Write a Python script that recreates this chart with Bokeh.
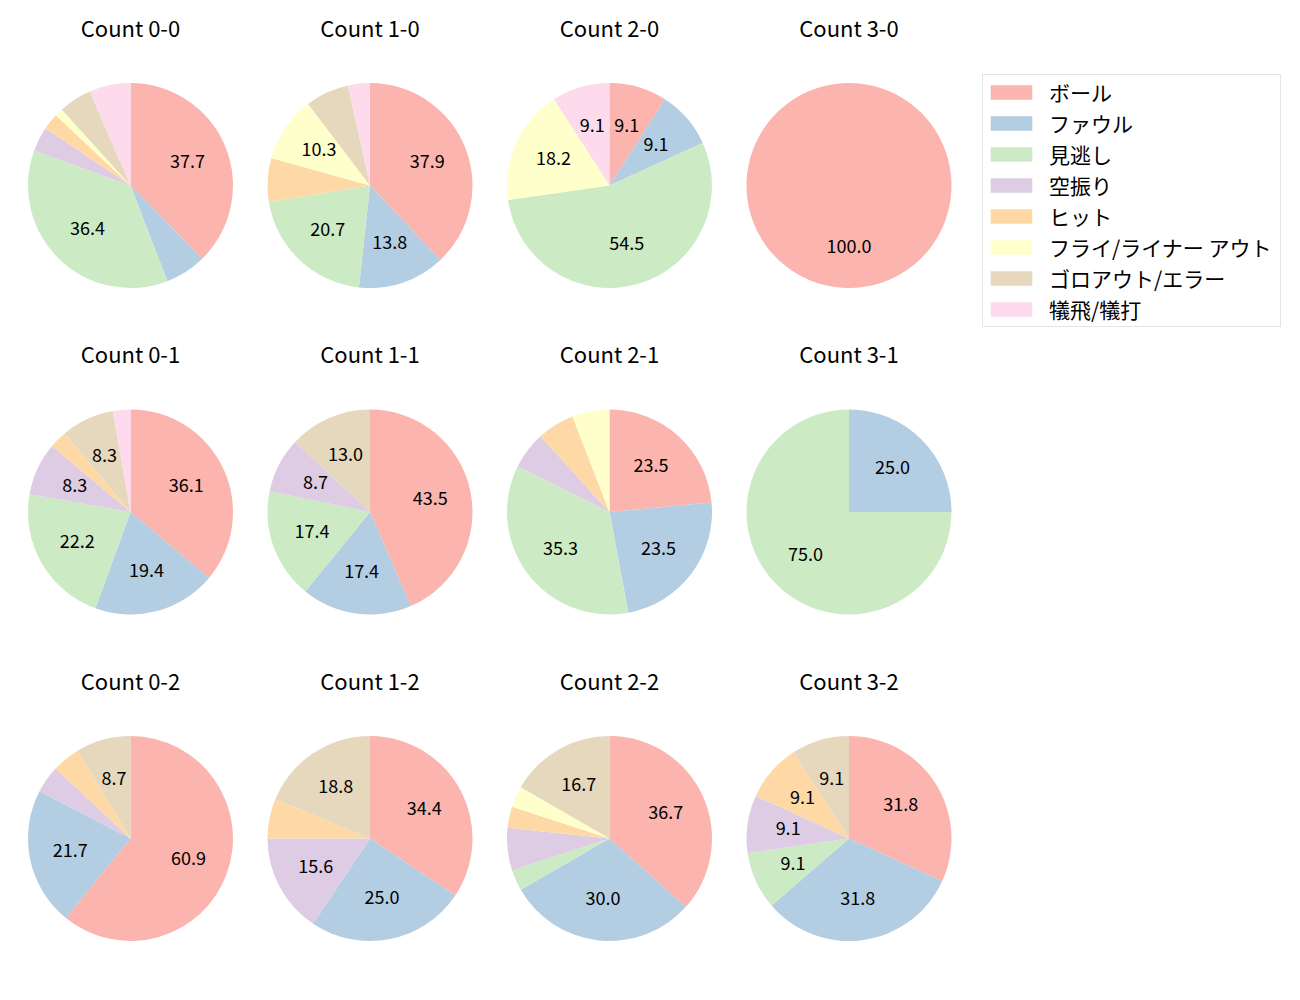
import math
from bokeh.plotting import figure
from bokeh.models import Range1d, ColumnDataSource, Legend, LegendItem
from bokeh.core.properties import value
from bokeh.embed import file_html
from bokeh.resources import INLINE

# ---- data ----
categories = ["ボール", "ファウル", "見逃し", "空振り", "ヒット",
              "フライ/ライナー アウト", "ゴロアウト/エラー", "犠飛/犠打"]
colors = ["#fbb4ae", "#b3cde3", "#ccebc5", "#decbe4", "#fed9a6",
          "#ffffcc", "#e5d8bd", "#fddaec"]

titles = ["Count 0-0", "Count 1-0", "Count 2-0", "Count 3-0",
          "Count 0-1", "Count 1-1", "Count 2-1", "Count 3-1",
          "Count 0-2", "Count 1-2", "Count 2-2", "Count 3-2"]

c00 = [29, 5, 28, 3, 2, 1, 4, 5]
c10 = [11, 4, 6, 0, 2, 3, 2, 1]
c20 = [1, 1, 6, 0, 0, 2, 0, 1]
c30 = [1, 0, 0, 0, 0, 0, 0, 0]
c01 = [13, 7, 8, 3, 1, 0, 3, 1]
c11 = [10, 4, 4, 2, 0, 0, 3, 0]
c21 = [4, 4, 6, 1, 1, 1, 0, 0]
c31 = [0, 1, 3, 0, 0, 0, 0, 0]
c02 = [14, 5, 0, 1, 1, 0, 2, 0]
c12 = [11, 8, 0, 5, 2, 0, 6, 0]
c22 = [11, 9, 1, 2, 1, 1, 5, 0]
c32 = [7, 7, 2, 2, 2, 0, 2, 0]
panels = [c00, c10, c20, c30, c01, c11, c21, c31, c02, c12, c22, c32]

label_min_pct = 8.0

# ---- layout (page pixel coordinates, y measured downward) ----
col_x = [130, 369.5, 609, 848.5]
row_y = [185, 511.5, 838]
R = 102.5
H = 1000
W_FIG, H_FIG = 1284, 984

p = figure(width=W_FIG, height=H_FIG, x_range=Range1d(0, W_FIG),
           y_range=Range1d(H - H_FIG, H),
           output_backend="svg", toolbar_location=None, min_border=0,
           x_axis_type=None, y_axis_type=None)
p.grid.visible = False
p.outline_line_color = None
p.background_fill_color = "white"
p.border_fill_color = "white"

font = value("Noto Sans CJK JP")

wedge_data = {k: dict(x=[], y=[], s=[], e=[]) for k in range(len(categories))}
lab = dict(x=[], y=[], t=[])
tit = dict(x=[], y=[], t=[])

for i, vals in enumerate(panels):
    cx = col_x[i % 4]
    cy = H - row_y[i // 4]
    total = float(sum(vals))
    cum = 0.0
    for k, v in enumerate(vals):
        if v <= 0:
            continue
        frac = v / total
        a0 = math.pi / 2 - 2 * math.pi * cum
        a1 = math.pi / 2 - 2 * math.pi * (cum + frac)
        if frac >= 0.99999:
            a1 = a0 - 2 * math.pi + 1e-4
        cum += frac
        wedge_data[k]["x"].append(cx)
        wedge_data[k]["y"].append(cy)
        wedge_data[k]["s"].append(a1)
        wedge_data[k]["e"].append(a0)
        pct = frac * 100
        if pct >= label_min_pct:
            am = (a0 + a1) / 2
            lab["x"].append(cx + 0.6 * R * math.cos(am))
            lab["y"].append(cy + 0.6 * R * math.sin(am) + 1.5)
            lab["t"].append(f"{pct:.1f}")
    tit["x"].append(cx)
    tit["y"].append(cy + 159)
    tit["t"].append(titles[i])

renderers = []
for k in range(len(categories)):
    src = ColumnDataSource(wedge_data[k])
    r = p.wedge(x="x", y="y", radius=R, start_angle="s", end_angle="e",
                source=src, fill_color=colors[k], line_color=None)
    renderers.append(r)

p.text(x="x", y="y", text="t", source=ColumnDataSource(lab),
       text_font=font, text_font_size="18px", text_color="black",
       text_align="center", text_baseline="middle")
p.text(x="x", y="y", text="t", source=ColumnDataSource(tit),
       text_font=font, text_font_size="22px", text_color="black",
       text_align="center", text_baseline="middle")

legend = Legend(items=[LegendItem(label=categories[k], renderers=[renderers[k]])
                       for k in range(len(categories))],
                location=(982, H_FIG - 327))
legend.margin = 0
legend.padding = 2
legend.spacing = 1
legend.glyph_width = 52
legend.glyph_height = 18
legend.label_height = 21
legend.label_width = 229
legend.label_standoff = 12
legend.label_text_font = "Noto Sans CJK JP"
legend.label_text_font_size = "21px"
legend.label_text_color = "black"
legend.border_line_color = "#cccccc"
legend.border_line_width = 1
legend.background_fill_color = "white"
legend.background_fill_alpha = 1.0
p.add_layout(legend, "center")

open("out.html", "w").write(file_html(p, INLINE))
